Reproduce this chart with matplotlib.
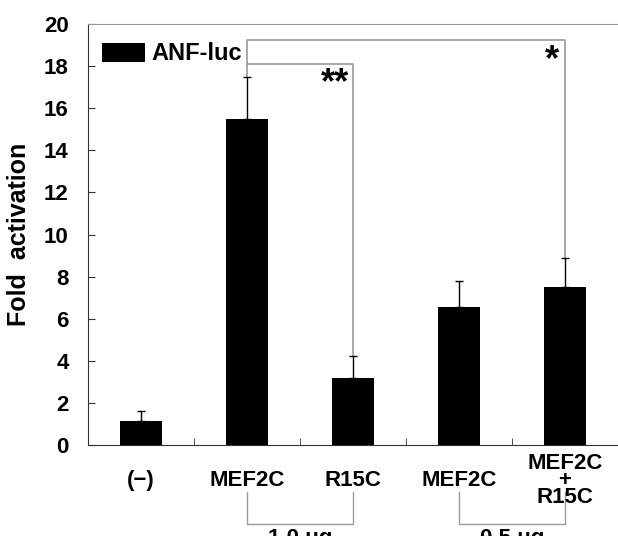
import matplotlib.pyplot as plt

plt.rcParams['font.family'] = ['Liberation Sans', 'DejaVu Sans']
plt.rcParams['font.weight'] = 'bold'

labels = ["(−)", "MEF2C", "R15C", "MEF2C", "MEF2C\n+\nR15C"]
values = [1.12, 15.5, 3.2, 6.55, 7.5]
errors = [0.5, 2.0, 1.05, 1.25, 1.4]
doses = ["1.0 μg", "0.5 μg"]

fig = plt.figure(figsize=(6.18, 5.36), dpi=100)
ax = fig.add_axes([0.1424, 0.1698, 0.8576, 0.7852])

x = list(range(len(values)))
ax.bar(x, values, width=0.4, color='black', label="ANF-luc", zorder=3)
ax.errorbar(x, values, yerr=[[0] * len(values), errors], fmt='none',
            ecolor='black', elinewidth=1, capsize=3, capthick=1, zorder=2)

ax.set_xlim(-0.5, 4.5)
ax.set_ylim(0, 20)
ax.set_yticks(range(0, 21, 2))
ax.set_xticks([])
ax.set_xticks([0.5, 1.5, 2.5, 3.5], minor=True)
ax.tick_params(axis='x', which='minor', direction='in', length=5, color='#333333')
ax.tick_params(axis='y', direction='in', length=5, labelsize=16, color='#333333',
               pad=14)
for t in ax.get_yticklabels():
    t.set_fontweight('bold')
ax.spines['right'].set_visible(False)
ax.spines['top'].set_color('#999999')
ax.spines['left'].set_color('#333333')
ax.spines['bottom'].set_color('#333333')
ax.set_ylabel("Fold  activation", fontsize=18, fontweight='bold', labelpad=9)

# category labels
for i, lab in enumerate(labels):
    ax.text(i, -1.7, lab, ha='center', va='center', fontsize=16,
            fontweight='bold', linespacing=0.75, clip_on=False)

leg = ax.legend(loc='upper left', frameon=False, fontsize=17, handlelength=1.8,
                handleheight=0.85, handletextpad=0.3, borderaxespad=0.2,
                bbox_to_anchor=(0.0, 0.99))
for t in leg.get_texts():
    t.set_fontweight('bold')

# significance brackets
gray = '#9a9a9a'
ax.plot([1, 1, 2, 2], [values[1] + errors[1], 18.1, 18.1, values[2] + errors[2]],
        color=gray, lw=1.2, zorder=1)
ax.plot([1, 1, 4, 4], [18.1, 19.25, 19.25, values[4] + errors[4]],
        color=gray, lw=1.2, zorder=1)
ax.text(1.96, 18.0, "**", ha='right', va='top', fontsize=26, fontweight='bold')
ax.text(3.94, 19.1, "*", ha='right', va='top', fontsize=26, fontweight='bold')

# dose brackets below axis
for i, (a, b) in enumerate([(1, 2), (3, 4)]):
    ax.plot([a, a, b, b], [-2.25, -3.75, -3.75, -2.25], color=gray, lw=1,
            clip_on=False)
    ax.text((a + b) / 2, -3.95, doses[i], ha='center', va='top', fontsize=16,
            fontweight='bold')

fig.savefig("out.png", dpi=100)
